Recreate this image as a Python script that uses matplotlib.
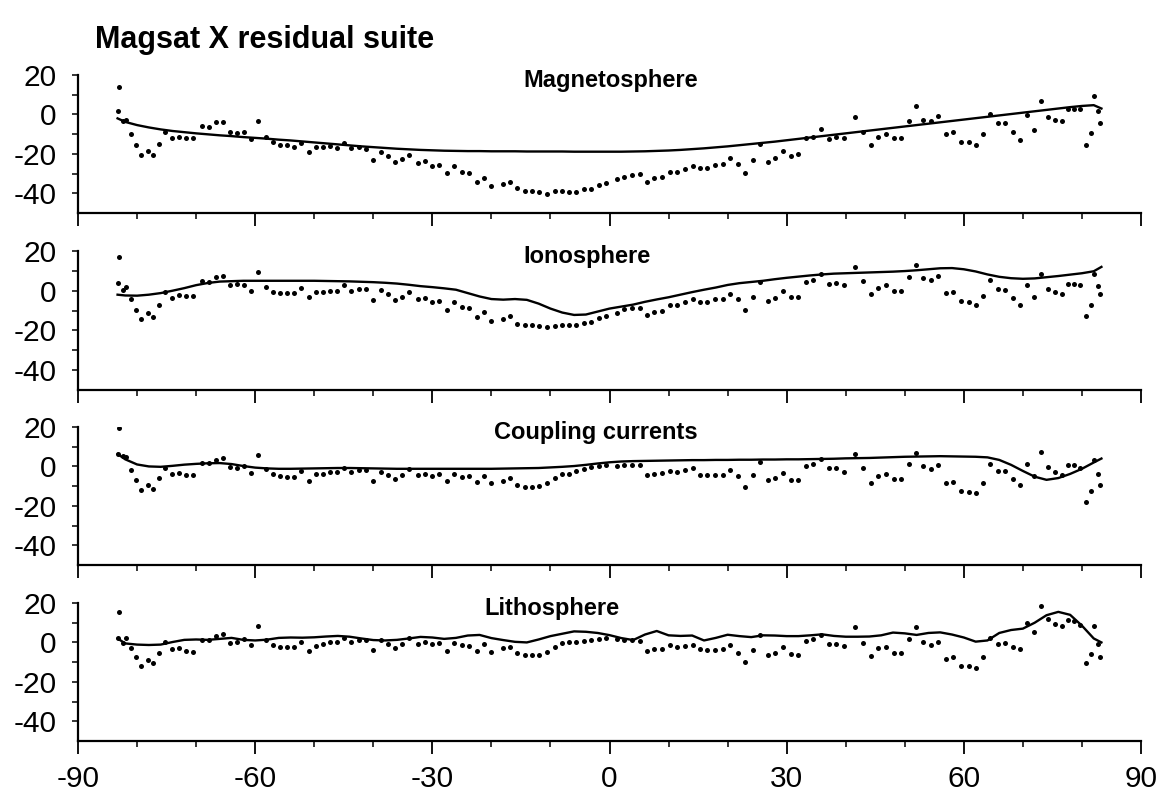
import matplotlib
matplotlib.use("Agg")
import matplotlib.pyplot as plt
from matplotlib.ticker import MultipleLocator, FixedLocator

plt.rcParams['font.family'] = ['Liberation Sans', 'DejaVu Sans']
plt.rcParams['axes.unicode_minus'] = False

# Latitude of each residual sample (degrees)
LAT = [-83.3, -83.0, -82.4, -81.8, -81.0, -80.2, -79.3, -78.2, -77.3, -76.2,
       -75.2, -74.0, -72.9, -71.7, -70.6, -69.0, -67.9, -66.6, -65.4, -64.2,
       -63.0, -61.9, -60.7, -59.5, -58.2, -57.0, -55.8, -54.6, -53.4, -52.2,
       -50.9, -49.7, -48.5, -47.3, -46.1, -44.9, -43.7, -42.5, -41.3, -40.0,
       -38.7, -37.5, -36.3, -35.1, -33.9, -32.5, -31.3, -30.0, -28.8, -27.5,
       -26.3, -25.0, -23.8, -22.5, -21.2, -20.0, -18.1, -16.8, -15.6, -14.3,
       -13.1, -11.9, -10.6, -9.3, -8.1, -6.9, -5.6, -4.3, -3.1, -1.8,
       -0.6, 1.2, 2.5, 3.8, 5.1, 6.4, 7.6, 8.9, 10.2, 11.5,
       12.8, 14.1, 15.3, 16.5, 17.8, 19.2, 20.4, 21.7, 23.0, 24.3,
       25.5, 26.8, 28.1, 29.4, 30.7, 31.9, 33.3, 34.5, 35.8, 37.1,
       38.4, 39.7, 41.5, 42.9, 44.2, 45.5, 46.8, 48.1, 49.4, 50.7,
       51.9, 53.1, 54.4, 55.7, 57.0, 58.2, 59.5, 60.8, 62.0, 63.3,
       64.5, 65.8, 67.0, 68.3, 69.5, 70.7, 71.9, 73.0, 74.3, 75.4,
       76.6, 77.7, 78.7, 79.7, 80.7, 81.5, 82.1, 82.7, 83.0]

MAGNETOSPHERE_RESID = [
    1.7, 13.9, -3.5, -2.8, -9.8, -15.5, -20.8, -18.7, -20.4, -15.0,
    -8.9, -12.1, -11.3, -12.1, -12.1, -5.7, -6.2, -4.0, -3.7, -8.8,
    -9.3, -8.8, -12.5, -3.5, -11.3, -14.0, -15.5, -15.7, -16.4, -14.5,
    -19.3, -16.5, -16.7, -16.0, -16.9, -14.7, -17.2, -16.7, -17.6, -23.1,
    -18.9, -21.1, -24.2, -22.8, -20.6, -24.5, -23.8, -26.4, -25.7, -29.7,
    -26.4, -29.4, -29.9, -34.1, -32.1, -36.3, -35.3, -34.1, -37.5, -38.7,
    -38.7, -39.2, -40.2, -38.7, -38.7, -39.6, -39.6, -38.0, -38.0, -35.8,
    -34.7, -33.0, -31.6, -30.8, -30.3, -34.1, -32.5, -31.6, -29.1, -29.1,
    -27.7, -26.0, -27.0, -27.0, -25.7, -25.3, -22.3, -25.2, -29.6, -23.0,
    -15.2, -24.2, -22.1, -18.4, -20.9, -20.3, -12.1, -11.3, -7.6, -12.4,
    -11.5, -12.2, -1.4, -8.7, -15.7, -11.5, -10.0, -12.1, -12.1, -3.5,
    4.1, -3.0, -3.5, -1.0, -9.8, -9.0, -13.8, -14.2, -15.7, -10.0,
    0.1, -4.3, -4.5, -9.0, -12.9, -0.5, -7.7, 6.6, -1.4, -3.0,
    -3.5, 2.6, 2.6, 3.0, -15.5, -9.2, 9.2, 1.6, -4.1]

IONOSPHERE_RESID = [
    3.8, 17.0, 0.3, 2.0, -4.2, -9.7, -14.2, -11.3, -13.0, -7.0,
    -0.5, -3.8, -2.2, -2.5, -2.5, 4.7, 4.2, 7.0, 7.5, 2.8,
    3.3, 2.8, 0.0, 9.2, 2.0, -0.5, -1.3, -1.3, -1.3, 1.2,
    -3.3, -0.8, -0.5, 0.0, 0.0, 2.8, 0.0, 0.8, 0.8, -4.5,
    0.3, -1.7, -4.7, -3.0, -0.8, -4.3, -3.7, -5.8, -5.0, -9.5,
    -5.8, -8.3, -8.7, -13.0, -10.8, -15.0, -14.0, -12.8, -16.7, -17.2,
    -17.5, -17.8, -18.3, -17.8, -17.2, -17.5, -17.2, -16.3, -15.8, -13.7,
    -12.5, -11.4, -9.2, -8.5, -8.5, -12.2, -10.5, -10.0, -7.2, -7.2,
    -5.5, -4.4, -5.5, -5.5, -4.4, -4.2, -1.7, -4.4, -9.7, -3.0,
    4.3, -5.0, -3.9, 0.0, -3.0, -3.0, 4.5, 5.6, 8.6, 3.6,
    4.1, 2.8, 12.0, 5.0, -1.9, 1.6, 2.8, 0.0, 0.0, 7.0,
    12.8, 6.6, 5.3, 7.5, -0.9, -0.5, -5.2, -5.9, -7.2, -2.7,
    5.3, 1.1, 0.6, -3.5, -7.2, 2.8, -3.4, 8.6, 1.1, -0.5,
    -1.7, 3.6, 3.6, 3.1, -12.7, -7.2, 8.6, 2.5, -1.9]

COUPLING_RESID = [
    6.3, 19.6, 5.5, 4.6, -1.7, -7.0, -11.9, -9.5, -11.4, -6.1,
    -0.8, -4.0, -3.2, -4.5, -4.5, 1.8, 1.8, 3.5, 4.1, -0.3,
    -0.8, 0.2, -3.3, 6.0, -1.5, -4.0, -5.0, -5.3, -5.3, -2.5,
    -7.3, -4.0, -4.0, -2.8, -2.8, -0.8, -2.8, -2.0, -2.0, -7.3,
    -2.8, -4.5, -6.5, -4.1, -1.2, -4.5, -4.0, -5.0, -4.0, -7.5,
    -3.6, -5.6, -5.0, -7.8, -4.8, -8.6, -7.3, -6.1, -9.5, -10.3,
    -10.3, -9.8, -8.6, -6.1, -4.0, -3.6, -2.5, -1.5, -0.5, 0.0,
    0.5, 0.3, 0.6, 0.9, 0.8, -4.3, -4.0, -3.5, -2.2, -2.7,
    -1.9, -1.0, -4.1, -4.1, -4.5, -4.5, -2.0, -5.1, -10.6, -4.6,
    2.1, -6.8, -6.0, -3.2, -6.7, -6.9, 0.0, 1.0, 3.9, -0.7,
    -0.7, -3.0, 6.4, -0.8, -8.2, -4.8, -4.0, -6.2, -6.2, 1.2,
    6.7, 0.3, -1.4, 0.6, -8.3, -7.8, -12.3, -13.0, -13.5, -8.4,
    1.0, -2.4, -2.4, -6.4, -9.6, 1.0, -5.0, 7.3, -0.4, -3.0,
    -4.5, 0.5, 0.5, -0.7, -18.2, -12.7, 3.3, -3.7, -9.5]

LITHOSPHERE_RESID = [
    2.3, 15.3, -0.2, 2.3, -2.7, -7.2, -11.8, -8.8, -10.5, -5.5,
    0.0, -3.5, -2.7, -4.3, -4.7, 1.2, 1.2, 3.3, 4.2, -0.2,
    0.3, 1.7, -1.3, 8.2, 1.2, -1.3, -2.5, -2.5, -2.5, 0.0,
    -4.3, -1.7, -1.0, 0.0, 0.0, 2.3, 0.0, 1.2, 1.2, -3.8,
    1.2, -0.8, -3.0, -0.8, 2.0, -1.0, 0.3, -0.8, -0.5, -4.3,
    -0.5, -1.3, -1.7, -4.3, -1.0, -4.7, -3.0, -2.2, -5.5, -6.3,
    -6.3, -6.3, -4.7, -2.2, -0.5, 0.0, 0.3, 0.8, 1.2, 1.7,
    2.0, 1.5, 1.2, 1.2, 0.8, -4.5, -3.2, -3.2, -1.5, -2.3,
    -1.8, -1.1, -3.5, -3.7, -3.7, -3.5, -1.4, -5.2, -10.0, -4.0,
    3.7, -6.2, -5.2, -2.3, -5.7, -6.2, 0.7, 1.7, 3.7, -0.6,
    -0.6, -1.7, 7.6, -0.1, -6.8, -2.7, -2.2, -5.3, -5.3, 1.8,
    7.6, 0.4, -1.4, 0.4, -8.5, -7.3, -11.9, -11.9, -12.8, -7.3,
    2.5, -1.0, -0.5, -2.2, -3.4, 9.9, 5.2, 18.5, 11.9, 9.5,
    8.1, 11.6, 11.1, 9.0, -10.3, -6.1, 8.2, -1.0, -7.3]

# Latitudes at which the model curves are read
CURVE_LAT = [-83.3, -82, -80, -78, -76, -74, -72, -70, -68, -66,
             -64, -62, -60, -58, -56, -54, -52, -50, -48, -46,
             -44, -42, -40, -38, -36, -34, -32, -30, -28, -26,
             -24, -22, -20, -18, -16, -14, -12, -10, -8, -6,
             -4, -2, 0, 2, 4, 6, 8, 10, 12, 14,
             16, 18, 20, 22, 24, 26, 28, 30, 32, 34,
             36, 38, 40, 42, 44, 46, 48, 50, 52, 54,
             56, 58, 60, 62, 64, 66, 68, 70, 72, 74,
             76, 78, 80, 82, 83.3]

MAGNETOSPHERE_MODEL = [
    -2.0, -3.8, -5.4, -6.6, -7.6, -8.4, -9.0, -9.6, -10.1, -10.6,
    -11.0, -11.5, -11.9, -12.3, -12.8, -13.2, -13.7, -14.2, -14.7, -15.2,
    -15.7, -16.2, -16.6, -17.0, -17.4, -17.7, -18.0, -18.2, -18.4, -18.5,
    -18.6, -18.6, -18.7, -18.7, -18.7, -18.8, -18.8, -18.8, -18.8, -18.9,
    -18.9, -18.9, -18.9, -18.9, -18.8, -18.7, -18.5, -18.3, -18.0, -17.6,
    -17.2, -16.7, -16.2, -15.6, -15.0, -14.4, -13.8, -13.1, -12.4, -11.7,
    -11.0, -10.3, -9.6, -8.9, -8.2, -7.5, -6.8, -6.1, -5.4, -4.7,
    -4.0, -3.3, -2.6, -1.9, -1.2, -0.5, 0.2, 0.9, 1.6, 2.3,
    3.0, 3.7, 4.3, 4.7, 3.0]

IONOSPHERE_MODEL = [
    -2.0, -2.4, -2.5, -2.0, -1.2, 0.0, 1.3, 2.8, 3.9, 4.6,
    4.8, 5.0, 5.0, 5.0, 5.0, 5.0, 5.0, 5.0, 4.9, 4.8,
    4.7, 4.5, 4.3, 4.0, 3.6, 3.0, 2.3, 1.8, 1.2, 0.5,
    -1.2, -2.9, -4.2, -4.5, -4.2, -4.6, -6.5, -9.0, -11.0, -12.2,
    -12.0, -10.5, -9.0, -8.0, -7.0, -5.6, -4.4, -3.3, -2.0, -0.7,
    0.5, 1.6, 2.9, 3.8, 4.4, 5.0, 5.8, 6.5, 7.1, 7.7,
    8.2, 8.6, 8.8, 9.0, 9.2, 9.4, 9.6, 9.9, 10.3, 10.8,
    11.3, 11.4, 10.8, 9.7, 8.2, 7.0, 6.3, 6.0, 6.2, 6.8,
    7.4, 8.1, 8.8, 9.8, 12.0]

COUPLING_MODEL = [
    6.3, 3.6, 1.0, 0.0, -0.2, 0.3, 0.9, 1.3, 1.6, 1.7,
    1.2, 0.2, -0.6, -1.0, -1.2, -1.2, -1.1, -1.0, -0.9, -0.8,
    -0.8, -0.9, -1.0, -1.1, -1.2, -1.2, -1.2, -1.2, -1.2, -1.2,
    -1.2, -1.2, -1.2, -1.1, -1.0, -0.9, -0.8, -0.5, -0.2, 0.2,
    0.8, 1.5, 2.1, 2.5, 2.7, 2.8, 2.9, 3.0, 3.1, 3.2,
    3.2, 3.3, 3.3, 3.4, 3.4, 3.5, 3.5, 3.6, 3.6, 3.7,
    3.8, 3.9, 4.1, 4.2, 4.3, 4.5, 4.7, 4.9, 5.0, 5.1,
    5.2, 5.1, 5.0, 4.9, 4.6, 3.3, 0.8, -2.3, -5.2, -6.8,
    -5.9, -3.8, -1.2, 2.0, 4.0]

LITHOSPHERE_MODEL = [
    2.0, -0.5, -1.1, -1.3, -1.1, 0.2, 1.3, 1.5, 1.3, 1.8,
    2.3, 1.3, 1.0, 1.4, 2.3, 2.5, 2.4, 2.6, 3.0, 3.3,
    2.9, 2.0, 1.2, 1.0, 1.3, 2.0, 2.8, 2.5, 1.8, 2.3,
    3.5, 3.8, 2.2, 1.2, 0.3, 0.0, 1.5, 3.2, 4.4, 5.6,
    5.4, 4.8, 3.7, 2.2, 1.2, 4.0, 5.8, 3.6, 3.3, 3.5,
    1.0, 2.3, 3.9, 3.2, 2.7, 3.6, 3.5, 3.2, 3.2, 3.6,
    4.1, 3.3, 2.9, 2.9, 3.0, 3.6, 5.0, 4.6, 3.8, 4.8,
    5.1, 4.0, 2.5, 0.4, 1.0, 4.8, 6.3, 7.0, 10.0, 13.8,
    15.5, 14.0, 8.5, 2.0, 0.0]

PANEL_TITLES = ["Magnetosphere", "Ionosphere", "Coupling currents", "Lithosphere"]
TITLE_LAT = [-14.5, -14.5, -19.5, -21.2]
X_TICKS = [-90, -60, -30, 0, 30, 60, 90]
Y_TICKS = [20, 0, -20, -40]
Y_MINOR = [10, -10, -30]

panels = [
    (MAGNETOSPHERE_RESID, MAGNETOSPHERE_MODEL),
    (IONOSPHERE_RESID, IONOSPHERE_MODEL),
    (COUPLING_RESID, COUPLING_MODEL),
    (LITHOSPHERE_RESID, LITHOSPHERE_MODEL),
]

W, H = 1169, 797
fig = plt.figure(figsize=(W / 100, H / 100), dpi=100)

# pixel rows of the y=20 (top) and y=-50 (bottom) levels for each panel
tops = [75, 251, 427, 603]
bots = [213, 390, 565, 741]
x_left, x_right = 78, 1141

for i, ((resid, model), title) in enumerate(zip(panels, PANEL_TITLES)):
    ax = fig.add_axes([x_left / W, 1 - bots[i] / H,
                       (x_right - x_left) / W, (bots[i] - tops[i]) / H])
    ax.plot(CURVE_LAT, model, color='black', lw=1.7, solid_joinstyle='round')
    ax.plot(LAT, resid, linestyle='none', marker='o', ms=3.6,
            color='black', mew=0)
    ax.set_xlim(-90, 90)
    ax.set_ylim(-50, 20)
    for s in ('top', 'right'):
        ax.spines[s].set_visible(False)
    for s in ('left', 'bottom'):
        ax.spines[s].set_linewidth(1.6)
    ax.set_xticks(X_TICKS)
    ax.xaxis.set_minor_locator(MultipleLocator(10))
    ax.set_yticks(Y_TICKS)
    ax.yaxis.set_minor_locator(FixedLocator(Y_MINOR))
    ax.tick_params(axis='x', which='major', direction='out', length=9,
                   width=1.3, labelsize=21.5, pad=8)
    ax.tick_params(axis='x', which='minor', direction='out', length=4.5,
                   width=1.1)
    ax.tick_params(axis='y', which='both', direction='out', length=4.5,
                   width=1.1, labelsize=21.5, pad=11)
    if i < 3:
        ax.tick_params(axis='x', labelbottom=False)
    ax.set_yticklabels([str(v) for v in Y_TICKS])
    ax.text(TITLE_LAT[i], 17, title, fontsize=17, fontweight='bold',
            ha='left', va='center')

fig.text(95 / W, 1 - 40 / H, "Magsat X residual suite", fontsize=22,
         fontweight='bold', ha='left', va='center')

fig.savefig("out.png", dpi=100)
